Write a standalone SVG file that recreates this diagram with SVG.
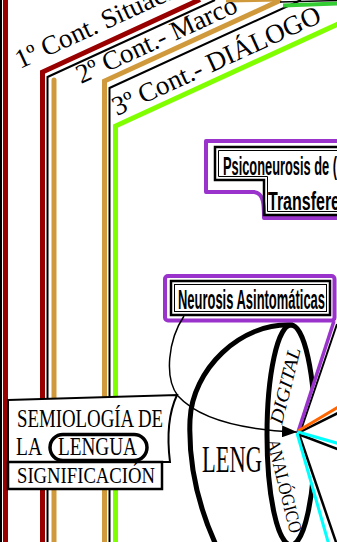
<svg xmlns="http://www.w3.org/2000/svg" width="337" height="542" viewBox="0 0 337 542">
<defs>
<style>
.serif{font-family:"Liberation Serif","Times New Roman",serif;fill:#000}
.cond{font-family:"Liberation Sans Narrow","Liberation Sans",Arial,sans-serif;font-weight:bold;fill:#000}
.fr{fill:none;stroke-linejoin:miter}
.thick{fill:none;stroke:#000;stroke-width:5}
</style>
<marker id="ah" markerWidth="15" markerHeight="12" refX="15" refY="6" orient="auto" markerUnits="userSpaceOnUse"><path d="M0,0 L15,6 L0,12 z" fill="#000"/></marker>
</defs>
<rect width="337" height="542" fill="#fff"/>
<g id="frames" class="fr">
<line x1="1" y1="0" x2="1" y2="542" stroke="#000" stroke-width="2"/>
<line x1="5.5" y1="0" x2="5.5" y2="542" stroke="#990000" stroke-width="5"/>
<path d="M42.5,545 V72 L200,-0.5" stroke="#990000" stroke-width="5"/>
<path d="M47.5,545 V77 L215,0" stroke="#000" stroke-width="2"/>
<path d="M54,545 V80" stroke="#D09A3C" stroke-width="5" stroke-linecap="round"/>
<path d="M104.5,545 V81 L281,0" stroke="#D09A3C" stroke-width="5"/>
<path d="M109.5,545 V88 L301,0" stroke="#000" stroke-width="2"/>
<path d="M115.5,545 V126 L340,23" stroke="#80FF00" stroke-width="5"/>
<path d="M226,1 L280,0" stroke="#D09A3C" stroke-width="3"/>
<path d="M283,5.5 L340,3.5" stroke="#33CC33" stroke-width="4"/>
<path d="M280,2 L340,0.5" stroke="#000" stroke-width="1.5"/>
</g>
<g id="frame-labels" class="serif" font-size="27">
<text transform="translate(20,69) rotate(-24.7)">1º Cont. Situac.</text>
<text transform="translate(81,84) rotate(-24.7)">2º Cont.- Marco</text>
<text transform="translate(117,116) rotate(-24.7)">3º Cont.- DIÁLOGO</text>
</g>
<g id="node-lenguaje">
<path class="thick" d="M293,325 C240,322 192,370 190,420 C188,470 200,510 216,545"/>
<ellipse class="thick" cx="291" cy="435" rx="24" ry="110"/>
<polygon points="298,432 316,378 326,378 326,497 314,497" fill="#fff"/>
<text class="serif" x="202" y="472" font-size="38" textLength="60" lengthAdjust="spacingAndGlyphs">LENG</text>
<text class="serif" font-size="19" font-style="italic" transform="translate(282,425) rotate(-76)" textLength="78" lengthAdjust="spacingAndGlyphs">DIGITAL</text>
<text class="serif" font-size="18.5" transform="translate(267,441) rotate(76)" textLength="96" lengthAdjust="spacingAndGlyphs">ANALÓGICO</text>
</g>
<g id="node-psiconeurosis">
<path d="M206,141 H340 V218 H264 C264,205 264,193 254,192 H206 Z" fill="#fff" stroke="#9933CC" stroke-width="4" stroke-linejoin="round"/>
<path d="M215,147 H340 V215 H264 V180 H215 Z" fill="none" stroke="#000" stroke-width="2.5"/>
<path d="M218.5,150.5 H340 V211.5 H267.5 V176.5 H218.5 Z" fill="none" stroke="#000" stroke-width="1"/>
<text class="cond" x="223" y="175" font-size="25" textLength="114" lengthAdjust="spacingAndGlyphs">Psiconeurosis de (</text>
<text class="cond" x="268" y="210" font-size="25" textLength="72" lengthAdjust="spacingAndGlyphs">Transfere</text>
</g>
<g id="node-neurosis">
<rect x="165" y="276" width="169.5" height="44.5" rx="3" fill="#fff" stroke="#9933CC" stroke-width="4"/>
<rect x="171" y="281" width="159" height="34" fill="none" stroke="#000" stroke-width="2.5"/>
<rect x="174.5" y="284.5" width="152" height="27" fill="none" stroke="#000" stroke-width="1"/>
<text class="cond" x="178" y="309" font-size="27" textLength="147" lengthAdjust="spacingAndGlyphs">Neurosis Asintomáticas</text>
</g>
<g id="node-semiologia">
<path d="M8,400 L177,395 C170,410 166,430 170,462 H8 Z" fill="#fff" stroke="#000" stroke-width="2"/>
<rect x="8" y="462" width="154" height="27" fill="#fff" stroke="#000" stroke-width="2.5"/>
<rect x="50" y="434.5" width="97" height="26" rx="13" fill="none" stroke="#000" stroke-width="3.5"/>
<text class="serif" x="17" y="427" font-size="25" textLength="146" lengthAdjust="spacingAndGlyphs">SEMIOLOGÍA DE</text>
<text class="serif" x="16" y="455" font-size="25" textLength="26" lengthAdjust="spacingAndGlyphs">LA</text>
<text class="serif" x="58" y="455" font-size="25" textLength="79" lengthAdjust="spacingAndGlyphs">LENGUA</text>
<text class="serif" x="17" y="483" font-size="24" textLength="138" lengthAdjust="spacingAndGlyphs">SIGNIFICACIÓN</text>
</g>
<g id="connectors" fill="none">
<path d="M184,316 C168,340 164,378 178,396 C200,420 245,430 297,432" stroke="#000" stroke-width="1.5" marker-end="url(#ah)"/>
<line x1="300" y1="433" x2="337" y2="324" stroke="#000" stroke-width="2"/>
<line x1="298" y1="432" x2="334" y2="321" stroke="#9933CC" stroke-width="3.5"/>
<line x1="298" y1="433" x2="340" y2="412" stroke="#000" stroke-width="2.5"/>
<line x1="298" y1="431" x2="340" y2="406" stroke="#FF6600" stroke-width="3"/>
<line x1="298" y1="434" x2="340" y2="450" stroke="#000" stroke-width="2.5"/>
<line x1="298" y1="432" x2="340" y2="444" stroke="#00FFFF" stroke-width="3"/>
<line x1="299" y1="434" x2="337" y2="545" stroke="#000" stroke-width="2.5"/>
<line x1="297" y1="433" x2="329" y2="545" stroke="#00FFFF" stroke-width="3"/>
</g>
</svg>
